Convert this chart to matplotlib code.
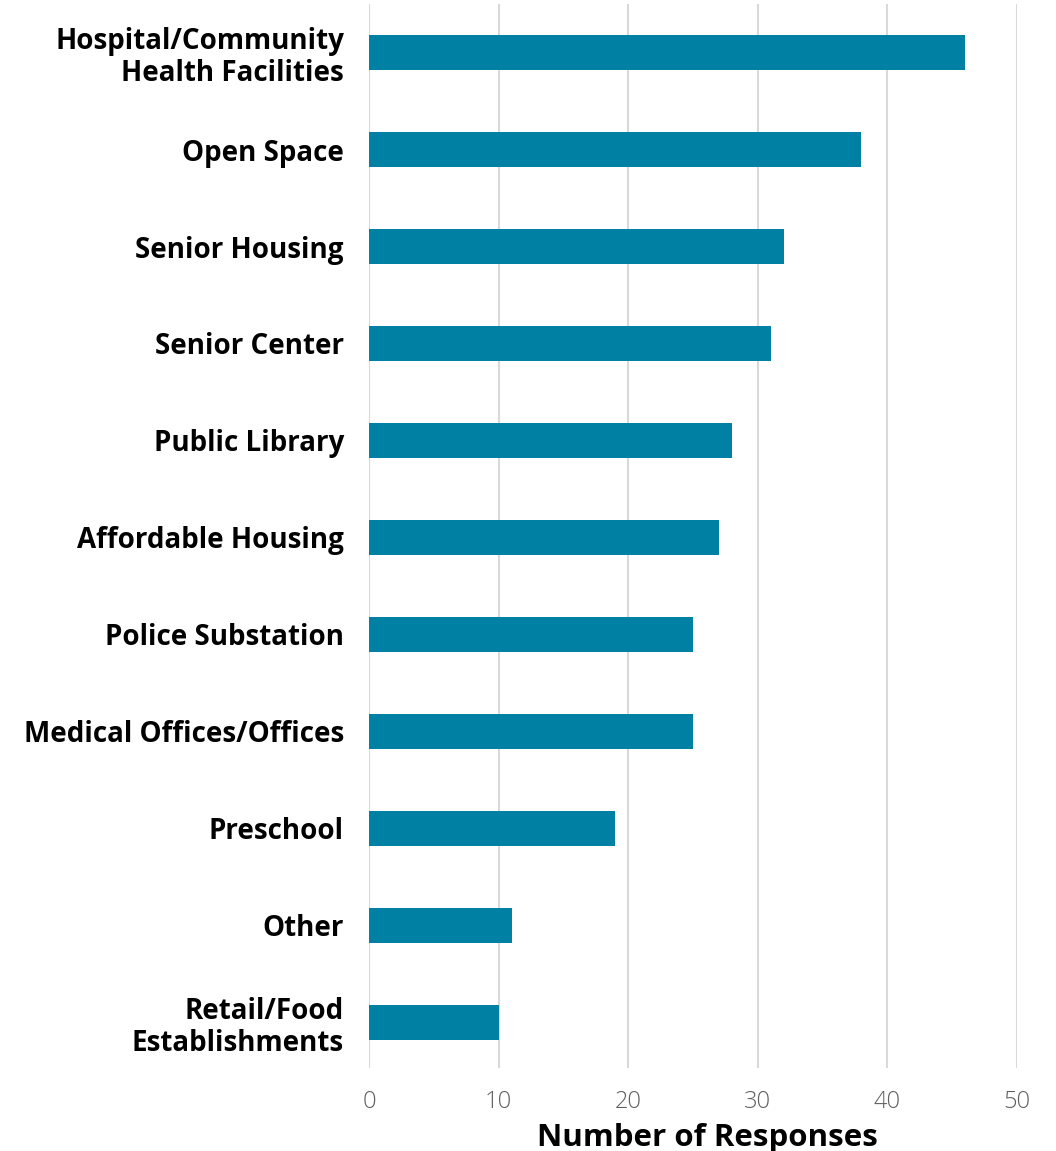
import matplotlib
matplotlib.use('Agg')
import matplotlib.pyplot as plt
import numpy as np

categories = ['Hospital/Community\nHealth Facilities', 'Open Space', 'Senior Housing',
              'Senior Center', 'Public Library', 'Affordable Housing',
              'Police Substation', 'Medical Offices/Offices', 'Preschool',
              'Other', 'Retail/Food\nEstablishments']
responses = [46, 38, 32, 31, 28, 27, 25, 25, 19, 11, 10]
xticks = [0, 10, 20, 30, 40, 50]

plt.rcParams['font.family'] = ['Open Sans', 'DejaVu Sans']

fig = plt.figure(figsize=(10.56, 11.51), dpi=100)
ax = fig.add_axes([0.3494, 0.0721, 0.6136, 0.9244])

y = np.arange(len(categories))
ax.barh(y, responses, height=0.36, color='#0081a3', zorder=3)

ax.set_xlim(0, 50)
ax.set_ylim(len(categories) - 0.53, -0.5)
ax.set_yticks(y)
ax.set_yticklabels(categories, fontsize=20, fontweight='bold', linespacing=1.12)
ax.set_xticks(xticks)
ax.set_xticklabels([str(t) for t in xticks], fontsize=17, color='#5f5f5f', fontweight='light')
ax.tick_params(axis='y', length=0, pad=18)
ax.tick_params(axis='x', length=0, pad=16)

ax.grid(axis='x', color='#d9d9d9', linewidth=1.5, zorder=0)
for s in ax.spines.values():
    s.set_visible(False)

ax.set_xlabel('Number of Responses', fontsize=22.5, fontweight='bold')
ax.xaxis.set_label_coords(0.522, -0.052)

fig.savefig('out.png', dpi=100)
